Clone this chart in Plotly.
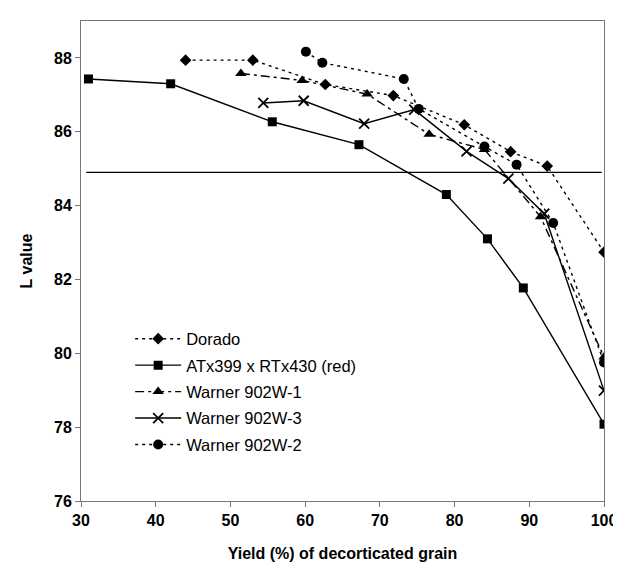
import plotly.graph_objects as go

# Yield (%) of decorticated grain vs L value
dorado_x = [44.0, 53.0, 62.7, 71.8, 81.3, 87.5, 92.4, 100.0]
dorado_y = [87.94, 87.94, 87.28, 86.98, 86.19, 85.46, 85.07, 82.74]

atx_x = [31.0, 42.0, 55.6, 67.2, 78.9, 84.4, 89.2, 100.0]
atx_y = [87.43, 87.30, 86.27, 85.65, 84.30, 83.10, 81.77, 78.08]

w1_x = [51.4, 59.6, 68.3, 76.6, 84.0, 91.5, 100.0]
w1_y = [87.58, 87.39, 87.02, 85.93, 85.52, 83.70, 79.90]

w3_x = [54.4, 59.8, 67.9, 74.6, 81.6, 87.2, 92.0, 100.0]
w3_y = [86.78, 86.84, 86.22, 86.60, 85.47, 84.73, 83.78, 78.99]

w2_x = [60.1, 62.3, 73.2, 75.2, 84.0, 88.3, 93.2, 100.0]
w2_y = [88.17, 87.87, 87.43, 86.62, 85.60, 85.11, 83.53, 79.75]

ref_level = 84.9
ref_x0, ref_x1 = 30.7, 99.7

x_ticks = [30, 40, 50, 60, 70, 80, 90, 100]
y_ticks = [76, 78, 80, 82, 84, 86, 88]

series = [
    ("Dorado", dorado_x, dorado_y, "3px,4px", "diamond", 9),
    ("ATx399 x RTx430 (red)", atx_x, atx_y, "solid", "square", 9),
    ("Warner 902W-1", w1_x, w1_y, "9px,4px,3px,4px", "triangle-up", 10),
    ("Warner 902W-3", w3_x, w3_y, "solid", "x-thin", 10),
    ("Warner 902W-2", w2_x, w2_y, "3px,4px", "circle", 10),
]

fig = go.Figure()
for name, xs, ys, dash, sym, sz in series:
    mk = dict(symbol=sym, size=sz, color="black")
    if sym == "x-thin":
        mk = dict(symbol=sym, size=sz, color="black", line=dict(width=1.8, color="black"))
    fig.add_trace(go.Scatter(x=xs, y=ys, name=name, mode="lines+markers",
                             legendgroup=name,
                             line=dict(color="black", width=1.4, dash=dash),
                             marker=mk))

fig.add_shape(type="line", x0=ref_x0, x1=ref_x1, y0=ref_level, y1=ref_level,
              xref="x", yref="y", line=dict(color="black", width=1.3))

fig.update_layout(
    width=621, height=569,
    margin=dict(l=73, r=15, t=13, b=76),
    paper_bgcolor="white", plot_bgcolor="white",
    font=dict(family="Liberation Sans, Arial", color="black", size=15),
    legend=dict(x=0.094, y=0.374, xanchor="left", yanchor="top",
                bgcolor="rgba(0,0,0,0)", font=dict(size=16.5),
                itemwidth=46, tracegroupgap=2),
    xaxis=dict(range=[30, 100], tickvals=x_ticks, showgrid=False, zeroline=False,
               showline=True, mirror=True, linecolor="#777", linewidth=1,
               ticks="outside", ticklen=5, tickcolor="#777",
               tickfont=dict(size=16, weight="bold"),
               title=dict(text="Yield (%) of decorticated grain",
                          font=dict(size=16, weight="bold"), standoff=19)),
    yaxis=dict(range=[76, 89], tickvals=y_ticks, showgrid=False, zeroline=False,
               showline=True, mirror=True, linecolor="#777", linewidth=1,
               ticks="outside", ticklen=5, tickcolor="#777",
               tickfont=dict(size=16, weight="bold"),
               title=dict(text="L value", font=dict(size=16, weight="bold"), standoff=17)),
)

fig.write_html("out.html")
